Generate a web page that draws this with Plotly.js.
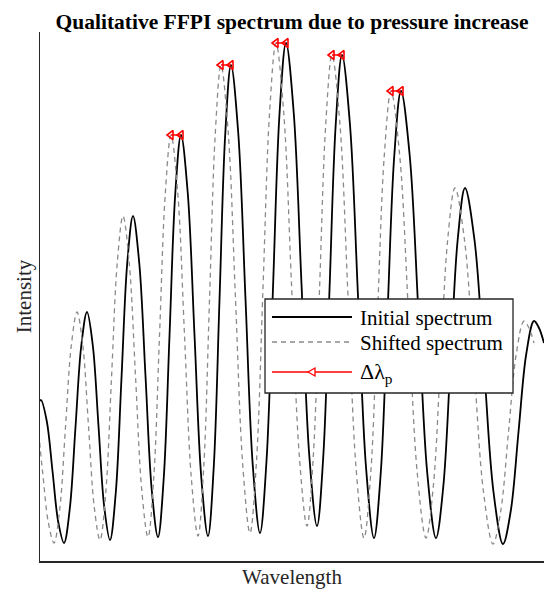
<!DOCTYPE html>
<html>
<head>
<meta charset="utf-8">
<script src="https://cdn.plot.ly/plotly-3.0.1.min.js"></script>
<style>html,body{margin:0;padding:0;background:#fff;}</style>
</head>
<body>
<div id="chart" style="width:544px;height:589px;"></div>
<script>
// Wavelength and intensity in arbitrary units
const initialWavelength = [0,1,6.75,12.5,18.25,24,29.75,35.5,41.25,47,52.75,58.5,64.25,70,75.75,81.5,87.25,93,99.25,105.5,111.75,118,123.75,129.5,135.25,141,147.75,154.5,161.25,168,173.75,179.5,185.25,191,198.25,205.5,212.75,220,226.5,233,239.5,246,253.75,261.5,269.25,277,283.25,289.5,295.75,302,310,318,326,334,340.75,347.5,354.25,361,369.75,378.5,387.25,396,403.25,410.5,417.75,425,434.5,444,453.5,463,470.75,478.5,486.25,494,499,504];
const initialIntensity = [160,161,140,90,39,18,52,134,215,249,216,135,54,21,68,183,298,345,298,185,71,24,83,225,367,426,368,226,84,25,94,261,427,496,428,262,96,28,100,273,447,518,448,277,106,35,104,271,437,506,436,265,94,23,88,247,405,470,405,247,88,23,74,198,322,373,321,195,69,17,50,129,207,240,233,218];

const shiftedWavelength = [-10,-9,-3.25,2.5,8.25,14,19.75,25.5,31.25,37,42.75,48.5,54.25,60,65.75,71.5,77.25,83,89.25,95.5,101.75,108,113.75,119.5,125.25,131,137.75,144.5,151.25,158,163.75,169.5,175.25,181,188.25,195.5,202.75,210,216.5,223,229.5,236,243.75,251.5,259.25,267,273.25,279.5,285.75,292,300,308,316,324,330.75,337.5,344.25,351,359.75,368.5,377.25,386,393.25,400.5,407.75,415,424.5,434,443.5,453,460.75,468.5,476.25,484,489,494];
const shiftedIntensity = [160,161,140,90,39,18,52,134,215,249,216,135,54,21,68,183,298,345,298,185,71,24,83,225,367,426,368,226,84,25,94,261,427,496,428,262,96,28,100,273,447,518,448,277,106,35,104,271,437,506,436,265,94,23,88,247,405,470,405,247,88,23,74,198,322,373,321,195,69,17,50,129,207,240,233,218];

// Peak shift arrows (Δλp): from initial peak to shifted peak
const arrowFrom = [141,191,246,302,361];
const arrowTo = [131,181,236,292,351];
const arrowLevel = [426,496,518,506,470];

const legendLabels = ['Initial spectrum','Shifted spectrum','Δλ<sub>p</sub>'];
const titleText = 'Qualitative FFPI spectrum due to pressure increase';
const xTitle = 'Wavelength';
const yTitle = 'Intensity';

const serif = 'Liberation Serif, Times New Roman, Times, serif';

const ax = [], ay = [];
for (let i = 0; i < arrowFrom.length; i++) {
  ax.push(arrowFrom[i], arrowTo[i], null);
  ay.push(arrowLevel[i], arrowLevel[i], null);
}

const traces = [
  {x: initialWavelength, y: initialIntensity, mode: 'lines', name: legendLabels[0],
   line: {color: '#000000', width: 1.8, shape: 'spline', smoothing: 1}, hoverinfo: 'skip'},
  {x: shiftedWavelength, y: shiftedIntensity, mode: 'lines', name: legendLabels[1],
   line: {color: '#8a8a8a', width: 1.3, dash: '5px,4px', shape: 'spline', smoothing: 1}, hoverinfo: 'skip'},
  {x: ax, y: ay, mode: 'lines+markers', name: legendLabels[2],
   line: {color: '#ff0000', width: 1.5},
   marker: {symbol: 'triangle-left-open', size: 8, color: '#ff0000', line: {width: 1.6, color: '#ff0000'}},
   hoverinfo: 'skip'}
];

// pixel -> paper helpers for the hand-built legend box
const L = 40, T = 32, W = 504, H = 529;
const px = v => (v - L) / W;
const py = v => (T + H - v) / H;

const shapes = [
  {type: 'rect', xref: 'paper', yref: 'paper', x0: px(265), x1: px(513), y0: py(393), y1: py(299),
   fillcolor: '#ffffff', line: {color: '#262626', width: 1.3}, layer: 'above'},
  {type: 'line', xref: 'paper', yref: 'paper', x0: px(272), x1: px(352), y0: py(317), y1: py(317),
   line: {color: '#000000', width: 1.8}, layer: 'above'},
  {type: 'line', xref: 'paper', yref: 'paper', x0: px(272), x1: px(352), y0: py(342), y1: py(342),
   line: {color: '#8a8a8a', width: 1.3, dash: '5px,4px'}, layer: 'above'},
  {type: 'line', xref: 'paper', yref: 'paper', x0: px(272), x1: px(352), y0: py(372), y1: py(372),
   line: {color: '#ff0000', width: 1.5}, layer: 'above'},
  {type: 'path', xref: 'paper', yref: 'paper',
   path: 'M' + px(308) + ',' + py(372) + ' L' + px(315) + ',' + py(368) + ' L' + px(315) + ',' + py(376) + ' Z',
   fillcolor: '#ffffff', line: {color: '#ff0000', width: 1.3}, layer: 'above'}
];

const annotations = [
  {text: legendLabels[0], xref: 'paper', yref: 'paper', x: px(358), y: py(318), xanchor: 'left', yanchor: 'middle',
   showarrow: false, font: {family: serif, size: 21, color: '#000'}},
  {text: legendLabels[1], xref: 'paper', yref: 'paper', x: px(358), y: py(343), xanchor: 'left', yanchor: 'middle',
   showarrow: false, font: {family: serif, size: 21, color: '#000'}},
  {text: legendLabels[2], xref: 'paper', yref: 'paper', x: px(358), y: py(373), xanchor: 'left', yanchor: 'middle',
   showarrow: false, font: {family: serif, size: 22, color: '#000'}}
];

const layout = {
  width: 544, height: 589,
  margin: {l: 40, r: 0, t: 32, b: 28, pad: 0},
  paper_bgcolor: '#ffffff', plot_bgcolor: '#ffffff',
  showlegend: false,
  title: {text: '<b>' + titleText + '</b>', font: {family: serif, size: 21.5, color: '#000'},
          x: 0.5, xref: 'paper', xanchor: 'center', y: 1 - 21 / 589, yref: 'container', yanchor: 'middle'},
  xaxis: {range: [0, 504], showline: true, linecolor: '#262626', linewidth: 1.5, mirror: false,
          showticklabels: false, ticks: '', showgrid: false, zeroline: false, automargin: false,
          title: {text: xTitle, font: {family: serif, size: 21, color: '#262626'}, standoff: 9}},
  yaxis: {range: [0, 529], showline: true, linecolor: '#262626', linewidth: 1.5, mirror: false,
          showticklabels: false, ticks: '', showgrid: false, zeroline: false, automargin: false,
          title: {text: yTitle, font: {family: serif, size: 21, color: '#262626'}, standoff: 1}},
  shapes: shapes,
  annotations: annotations
};

Plotly.newPlot('chart', traces, layout, {displayModeBar: false, staticPlot: true});
</script>
</body>
</html>
